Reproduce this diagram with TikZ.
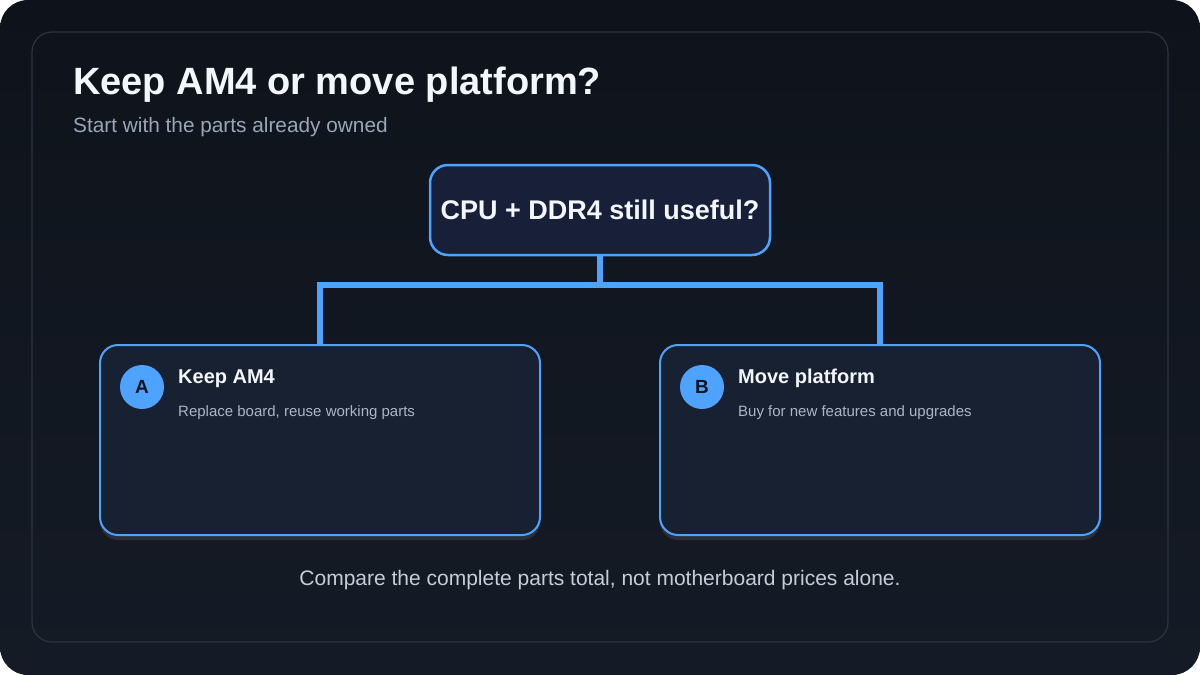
\documentclass[tikz,border=0pt]{standalone}
\usepackage{fontspec}
\setmainfont{Liberation Sans}
\usepackage{xcolor}
\usetikzlibrary{positioning,shadows}
\definecolor{bgtop}{HTML}{0E131B}
\definecolor{bgbottom}{HTML}{151B26}
\definecolor{panelline}{HTML}{2B3442}
\definecolor{cardfill}{HTML}{172131}
\definecolor{askfill}{HTML}{172038}
\definecolor{accent}{HTML}{4DA3FF}
\definecolor{headtext}{HTML}{F3F6FB}
\definecolor{subtext}{HTML}{9AA6B8}
\definecolor{desctext}{HTML}{AAB5C5}
\definecolor{foottext}{HTML}{C5CDD8}
\definecolor{badgetext}{HTML}{0D1420}

\begin{document}
\begin{tikzpicture}[
  x=1pt, y=-1pt,
  ask/.style={draw=accent, line width=2.5pt, rounded corners=18pt, fill=askfill, minimum width=340pt, minimum height=90pt, outer sep=0pt, anchor=north west, font=\fontsize{27}{32}\selectfont\bfseries, text=headtext},
  card/.style={draw=accent, line width=2pt, rounded corners=18pt, fill=cardfill, minimum width=440pt, minimum height=190pt, outer sep=0pt, anchor=north west, drop shadow={opacity=0.22, shadow xshift=0pt, shadow yshift=-5pt}},
  badge/.style={circle, fill=accent, minimum size=44pt, inner sep=0pt, font=\fontsize{19}{22}\selectfont\bfseries, text=badgetext},
  cardtitle/.style={anchor=base west, inner sep=0pt, font=\fontsize{20}{24}\selectfont\bfseries, text=headtext},
  carddesc/.style={anchor=base west, inner sep=0pt, font=\fontsize{15}{18}\selectfont, text=desctext},
  link/.style={draw=accent, line width=6pt},
  node distance=5mm
]
\useasboundingbox (0,0) rectangle (1200,675);
\fill[white] (0,0) rectangle (1200,675);
\shade[top color=bgtop, bottom color=bgbottom, rounded corners=28pt] (0,0) rectangle (1200,675);
\draw[panelline, line width=1.2pt, rounded corners=20pt] (32,32) rectangle (1168,642);

\node[anchor=base west, inner sep=0pt, font=\fontsize{38}{44}\selectfont\bfseries, text=headtext] (title) at (73,94) {Keep AM4 or move platform?};
\node[anchor=base west, inner sep=0pt, font=\fontsize{20.8}{24}\selectfont, text=subtext] (subtitle) at (73,132) {Start with the parts already owned};

\node[ask] (question) at (430,165) {CPU + DDR4 still useful?};

\node[card] (keep) at (100,345) {};
\node[card] (move) at (660,345) {};

\node[badge] (badgeA) at (142,387) {A};
\node[cardtitle] (keeptitle) at (178,383) {Keep AM4};
\node[carddesc] (keepdesc) at (178,416) {Replace board, reuse working parts};

\node[badge] (badgeB) at (702,387) {B};
\node[cardtitle] (movetitle) at (738,383) {Move platform};
\node[carddesc] (movedesc) at (738,416) {Buy for new features and upgrades};

\coordinate (split) at ([yshift=-30pt]question.south);
\draw[link] (question.south) -- (split);
\draw[link] (keep.north) |- (split) -| (move.north);

\node[anchor=base, inner sep=0pt, font=\fontsize{21}{25}\selectfont, text=foottext] (footer) at (600,585) {Compare the complete parts total, not motherboard prices alone.};
\end{tikzpicture}
\end{document}
